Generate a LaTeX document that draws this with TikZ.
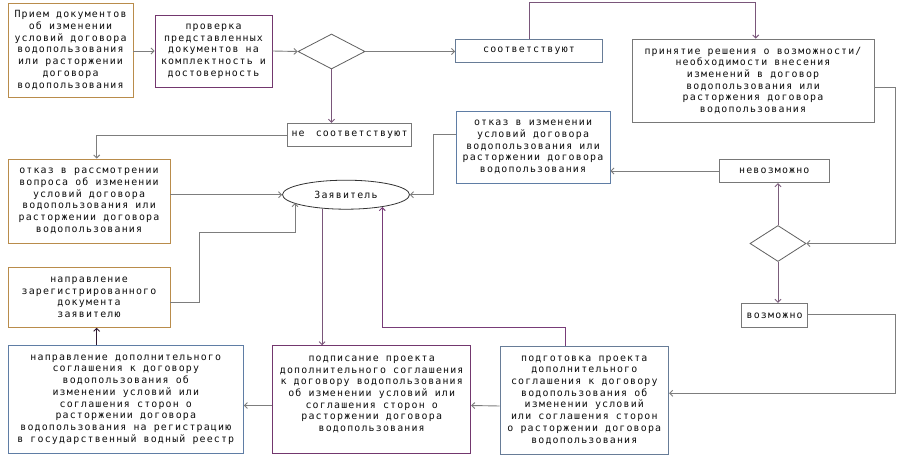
\documentclass[tikz,border=0pt]{standalone}
\usepackage{fontspec}
\usetikzlibrary{shapes.geometric,arrows.meta}
\newfontfamily\diagfont[LetterSpace=12]{DejaVu Sans Mono}
\definecolor{linegray}{RGB}{125,125,125}
\definecolor{linepurple}{RGB}{120,60,120}
\definecolor{bdorange}{RGB}{185,140,75}
\definecolor{bdpurple}{RGB}{115,55,110}
\definecolor{bdblue}{RGB}{95,125,165}
\definecolor{bdgray}{RGB}{120,120,120}
\definecolor{txt}{RGB}{15,15,15}
\tikzset{
  box/.style={draw, line width=0.9pt, rectangle, inner sep=0pt, align=center,
    text=txt, font=\diagfont\fontsize{9.9}{11.7}\selectfont},
  dia/.style={draw=bdgray!80!black, line width=0.8pt, diamond, inner sep=0pt},
  arr/.style={draw=linegray, line width=0.9pt, -{Straight Barb[length=3pt,width=6pt]}},
  ln/.style={draw=linegray, line width=0.9pt},
}
\begin{document}
\begin{tikzpicture}[x=1pt,y=-1pt]
\fill[white] (0,0) rectangle (902,457);
\useasboundingbox (0,0) rectangle (902,457);

\node[box, draw=bdorange, minimum width=125pt, minimum height=94pt] (A) at (70.5,50)
  {Прием документов\\об изменении\\условий договора\\водопользования\\или расторжении\\договора\\водопользования};
\node[box, draw=bdpurple, minimum width=117pt, minimum height=72pt] (B) at (213.5,51)
  {проверка\\представленных\\документов на\\комплектность и\\достоверность};
\node[dia, minimum width=67pt, minimum height=35pt, aspect=1.9] (D1) at (331.5,51.5) {};
\node[box, draw=bdblue!70!bdgray, minimum width=147pt, minimum height=23.7pt] (C) at (529,51) {соответствуют};
\node[box, draw=bdgray, minimum width=242pt, minimum height=83pt] (P) at (753,80.5)
  {принятие решения о возможности/\\необходимости внесения\\изменений в договор\\водопользования или\\расторжения договора\\водопользования};
\node[box, draw=bdgray, minimum width=124pt, minimum height=23.4pt] (NS) at (349.5,135) {не\hspace{4pt} соответствуют};
\node[box, draw=bdorange, minimum width=162pt, minimum height=84pt] (O1) at (89,201)
  {отказ в рассмотрении\\вопроса об изменении\\условий договора\\водопользования или\\расторжении договора\\водопользования};
\node[box, draw=bdblue, minimum width=154pt, minimum height=72pt] (O2) at (533,147)
  {отказ в изменении\\условий договора\\водопользования или\\расторжении договора\\водопользования};
\node[draw=black!80, line width=0.8pt, ellipse, inner sep=0pt, minimum width=127pt, minimum height=29pt,
  text=txt, font=\diagfont\fontsize{9.9}{11.7}\selectfont] (E) at (346,194.7) {Заявитель};
\node[box, draw=bdgray, minimum width=110pt, minimum height=23.4pt] (NV) at (774.3,171) {невозможно};
\node[dia, minimum width=56pt, minimum height=36pt, aspect=1.55] (D2) at (778,243.5) {};
\node[box, draw=bdgray, minimum width=66pt, minimum height=24pt] (V) at (774.7,315.3) {возможно};
\node[box, draw=bdorange, minimum width=162pt, minimum height=60pt] (NZ) at (89,297.3)
  {направление\\зарегистрированного\\документа\\заявителю};
\node[box, draw=bdblue, minimum width=235pt, minimum height=107.6pt] (ND) at (125.8,399.5)
  {направление дополнительного\\соглашения к договору\\водопользования об\\изменении условий или\\соглашения сторон о\\расторжении договора\\водопользования на регистрацию\\в государственный водный реестр};
\node[box, draw=bdpurple, minimum width=198pt, minimum height=107.6pt] (PS) at (371.7,399.5)
  {подписание проекта\\дополнительного соглашения\\к договору водопользования\\об изменении условий или\\соглашения сторон о\\расторжении договора\\водопользования\\\mbox{}};
\node[box, draw=bdblue!70!bdgray, minimum width=168.7pt, minimum height=108pt] (PG) at (584.3,400)
  {подготовка проекта\\дополнительного\\соглашения к договору\\водопользования об\\изменении условий\\или соглашения сторон\\о расторжении договора\\водопользования};

\coordinate (t1) at (755.7,2.5);
\coordinate (r1) at (895.7,87);
\coordinate (r2) at (895.7,314.3);
\coordinate (l1) at (96.7,135);
\coordinate (l2) at (433,134);
\coordinate (m1) at (199.3,302.7);
\coordinate (m2) at (199.3,232.7);
\coordinate (m3) at (295,232.7);
\coordinate (n1) at (565.7,327.3);
\coordinate (n2) at (382.3,327.3);

\draw[arr] (A.east |- B.west) -- (B.west);
\draw[arr] (B.east) -- (D1.west);
\draw[arr] (D1.east) -- (C.west |- D1.east);
\draw[arr, draw=linepurple!60!linegray] (C.north) |- (t1) -- (t1 |- P.north);
\draw[arr] (P.east |- r1) -- (r1) |- (D2.east);
\draw[arr, draw=linepurple!50!linegray] (D2.north) -- (D2.north |- NV.south);
\draw[arr, draw=linepurple!50!linegray] (D2.south) -- (D2.south |- V.north);
\draw[arr] (NV.west) -- (O2.east |- NV.west);
\draw[arr] (O2.west |- l2) -- (l2) |- (E.east);
\draw[arr, draw=linepurple!60!linegray] (D1.south) -- (D1.south |- NS.north);
\draw[arr] (NS.west) -- (l1) -- (l1 |- O1.north);
\draw[arr] (O1.east |- E.west) -- (E.west);
\draw[arr] (NZ.east |- m1) -- (m1) -- (m2) -- (m3) -- (m3 |- E.189.6);
\draw[arr, draw=linepurple!60!linegray] (E.210.7) -- (E.210.7 |- PS.north);
\draw[arr, draw=linepurple] (n1 |- PG.north) -- (n1) -- (n2) -- (n2 |- E.341.9);
\draw[arr] ([yshift=-6pt]PG.west) -- ([yshift=-6pt]PS.east);
\draw[arr] ([yshift=-6pt]PS.west) -- ([yshift=-6pt]ND.east);
\draw[arr, draw=linepurple!40!black] (l1 |- ND.north) -- (l1 |- NZ.south);
\draw[arr] (V.east |- r2) -- (r2) |- ([yshift=6.7pt]PG.east);
\end{tikzpicture}
\end{document}
